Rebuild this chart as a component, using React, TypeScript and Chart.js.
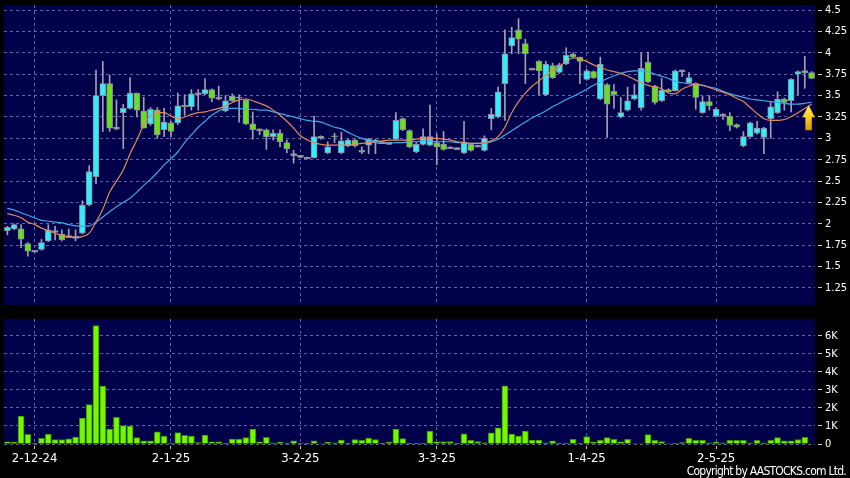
import React, { useEffect, useRef } from 'react';
import { Chart, registerables } from 'chart.js';

Chart.register(...registerables);

// ---- Data ----
const openP = [
  1.92, 1.94, 1.94, 1.77, 1.68, 1.70, 1.80, 1.90, 1.88, 1.85,
  1.84, 1.89, 2.22, 2.55, 3.50, 3.64, 3.12, 3.30, 3.35, 3.53,
  3.32, 3.17, 3.33, 3.10, 3.18, 3.18, 3.39, 3.37, 3.52, 3.52,
  3.57, 3.47, 3.32, 3.49, 3.48, 3.45, 3.17, 3.10, 3.10, 3.02,
  3.06, 2.95, 2.81, 2.79, 2.77, 2.77, 3.01, 2.83, 3.03, 2.83,
  2.91, 2.98, 2.85, 2.92, 2.96, 2.95, 2.94, 2.99, 3.23, 3.09,
  2.84, 2.93, 2.92, 2.95, 2.93, 2.89, 2.88, 2.83, 2.93, 2.91,
  2.86, 3.23, 3.25, 3.64, 4.08, 4.27, 4.11, 3.81, 3.90, 3.51,
  3.85, 3.77, 3.87, 3.985, 3.95, 3.69, 3.78, 3.46, 3.63, 3.55,
  3.25, 3.33, 3.46, 3.36, 3.89, 3.61, 3.44, 3.57, 3.557, 3.79,
  3.65, 3.64, 3.30, 3.43, 3.26, 3.27, 3.26, 3.16, 2.91, 3.02,
  3.06, 3.01, 3.23, 3.30, 3.46, 3.44, 3.75, 3.78, 3.77,
];
const highP = [
  1.97, 2.00, 1.99, 1.78, 1.68, 1.82, 1.99, 1.97, 1.93, 1.94,
  1.93, 2.27, 2.68, 3.80, 3.90, 3.74, 3.45, 3.40, 3.71, 3.53,
  3.48, 3.36, 3.36, 3.35, 3.20, 3.53, 3.51, 3.57, 3.57, 3.70,
  3.58, 3.61, 3.50, 3.52, 3.51, 3.46, 3.31, 3.11, 3.11, 3.10,
  3.10, 2.98, 2.86, 2.80, 2.78, 3.26, 3.03, 2.96, 3.06, 3.07,
  2.99, 2.99, 2.90, 3.00, 2.99, 2.96, 2.95, 3.30, 3.24, 3.10,
  2.95, 3.11, 3.39, 3.05, 3.08, 2.90, 2.89, 3.20, 2.94, 2.92,
  3.03, 3.35, 3.60, 4.27, 4.30, 4.40, 4.16, 3.82, 3.91, 3.90,
  3.88, 3.88, 4.06, 4.00, 3.95, 3.81, 3.79, 3.95, 3.64, 3.63,
  3.48, 3.60, 3.63, 4.00, 4.01, 3.62, 3.70, 3.58, 3.80, 3.80,
  3.77, 3.65, 3.49, 3.50, 3.36, 3.29, 3.30, 3.17, 3.08, 3.19,
  3.20, 3.13, 3.42, 3.545, 3.47, 3.70, 3.79, 3.96, 3.78,
];
const lowP = [
  1.87, 1.93, 1.72, 1.62, 1.67, 1.69, 1.79, 1.81, 1.80, 1.84,
  1.80, 1.88, 2.21, 2.47, 3.08, 3.08, 3.10, 2.88, 3.34, 3.25,
  3.12, 3.15, 3.00, 3.02, 3.02, 3.16, 3.27, 3.33, 3.33, 3.51,
  3.43, 3.45, 3.31, 3.43, 3.19, 3.16, 2.99, 3.04, 2.87, 2.98,
  2.90, 2.83, 2.71, 2.77, 2.76, 2.77, 2.99, 2.82, 2.95, 2.82,
  2.90, 2.90, 2.82, 2.82, 2.82, 2.94, 2.93, 2.98, 3.09, 2.89,
  2.83, 2.92, 2.91, 2.69, 2.86, 2.88, 2.87, 2.82, 2.85, 2.90,
  2.85, 3.10, 3.24, 3.21, 3.99, 3.99, 3.64, 3.80, 3.51, 3.50,
  3.70, 3.76, 3.86, 3.94, 3.64, 3.68, 3.70, 3.45, 3.01, 3.35,
  3.24, 3.32, 3.45, 3.33, 3.65, 3.40, 3.43, 3.54, 3.55, 3.72,
  3.64, 3.34, 3.29, 3.33, 3.25, 3.22, 3.09, 3.12, 2.90, 3.01,
  3.05, 2.82, 3.00, 3.29, 3.33, 3.31, 3.51, 3.585, 3.70,
];
const closeP = [
  1.96, 1.99, 1.82, 1.68, 1.68, 1.78, 1.93, 1.92, 1.81, 1.85,
  1.84, 2.22, 2.61, 3.50, 3.64, 3.12, 3.12, 3.35, 3.53, 3.33,
  3.12, 3.34, 3.04, 3.19, 3.08, 3.38, 3.37, 3.52, 3.52, 3.57,
  3.47, 3.47, 3.44, 3.44, 3.47, 3.17, 3.10, 3.10, 3.02, 3.06,
  2.96, 2.88, 2.81, 2.79, 2.77, 3.02, 3.01, 2.90, 3.02, 2.97,
  2.98, 2.91, 2.85, 2.99, 2.98, 2.95, 2.94, 3.21, 3.10, 2.90,
  2.93, 3.02, 3.02, 2.90, 2.87, 2.89, 2.88, 2.96, 2.86, 2.91,
  3.00, 3.28, 3.545, 3.99, 4.18, 4.16, 3.99, 3.81, 3.79, 3.87,
  3.71, 3.86, 3.97, 3.95, 3.90, 3.79, 3.71, 3.87, 3.40, 3.51,
  3.30, 3.44, 3.51, 3.82, 3.66, 3.42, 3.565, 3.545, 3.79, 3.79,
  3.71, 3.48, 3.43, 3.38, 3.34, 3.27, 3.15, 3.13, 3.02, 3.18,
  3.12, 3.12, 3.37, 3.46, 3.42, 3.69, 3.78, 3.78, 3.70,
];
const volume = [
  120, 110, 1550, 540, 20, 310, 550, 240, 250, 290,
  390, 1440, 2180, 6570, 3210, 830, 1480, 1020, 1000, 350,
  170, 170, 680, 440, 50, 630, 480, 440, 80, 500,
  120, 120, 50, 270, 270, 350, 830, 120, 370, 60,
  100, 40, 170, 20, 20, 170, 30, 100, 60, 220,
  40, 250, 200, 330, 240, 50, 100, 830, 300, 50,
  50, 50, 720, 120, 120, 140, 40, 570, 200, 140,
  70, 620, 900, 3230, 550, 440, 720, 220, 220, 60,
  170, 50, 50, 260, 50, 410, 100, 200, 350, 260,
  120, 260, 30, 30, 520, 200, 130, 30, 20, 80,
  320, 200, 200, 60, 100, 60, 200, 200, 200, 60,
  200, 60, 200, 350, 170, 170, 250, 370, 0,
];
const maShort = [
  2.12, 2.10, 2.07, 2.02, 1.99, 1.95, 1.92, 1.89, 1.86, 1.85,
  1.84, 1.85, 1.89, 2.02, 2.17, 2.37, 2.50, 2.63, 2.82, 2.98,
  3.16, 3.26, 3.30, 3.30, 3.26, 3.23, 3.25, 3.28, 3.30, 3.31,
  3.33, 3.35, 3.38, 3.42, 3.45, 3.46, 3.44, 3.41, 3.38, 3.33,
  3.27, 3.20, 3.12, 3.03, 2.98, 2.95, 2.93, 2.92, 2.92, 2.92,
  2.92, 2.93, 2.94, 2.95, 2.96, 2.97, 2.98, 2.98, 2.98, 2.98,
  2.99, 3.00, 3.00, 3.00, 2.99, 2.98, 2.96, 2.95, 2.94, 2.94,
  2.95, 2.97, 3.02, 3.13, 3.30, 3.43, 3.53, 3.61, 3.67, 3.74,
  3.79, 3.84, 3.90, 3.94, 3.93, 3.90, 3.86, 3.83, 3.80, 3.78,
  3.76, 3.73, 3.69, 3.65, 3.62, 3.60, 3.58, 3.53, 3.52, 3.575,
  3.61, 3.635, 3.62, 3.595, 3.565, 3.54, 3.51, 3.47, 3.43, 3.36,
  3.29, 3.23, 3.21, 3.21, 3.22, 3.255, 3.30, 3.35, 3.40,
];
const maLong = [
  2.18, 2.16, 2.13, 2.10, 2.07, 2.04, 2.03, 2.02, 2.01, 1.99,
  1.975, 1.97, 1.975, 2.02, 2.08, 2.14, 2.20, 2.25, 2.30, 2.37,
  2.45, 2.52, 2.60, 2.69, 2.76, 2.84, 2.95, 3.04, 3.13, 3.20,
  3.27, 3.32, 3.35, 3.35, 3.35, 3.34, 3.34, 3.33, 3.33, 3.31,
  3.29, 3.27, 3.25, 3.23, 3.21, 3.20, 3.19, 3.16, 3.13, 3.11,
  3.07, 3.03, 3.00, 2.97, 2.95, 2.94, 2.94, 2.95, 2.95, 2.96,
  2.96, 2.97, 2.97, 2.96, 2.96, 2.96, 2.95, 2.95, 2.94, 2.94,
  2.94, 2.96, 2.99, 3.04, 3.09, 3.14, 3.19, 3.24, 3.28, 3.32,
  3.37, 3.41, 3.455, 3.49, 3.53, 3.575, 3.62, 3.66, 3.70, 3.73,
  3.76, 3.78, 3.79, 3.79, 3.78, 3.75, 3.725, 3.70, 3.665, 3.65,
  3.64, 3.63, 3.62, 3.60, 3.585, 3.55, 3.52, 3.50, 3.48, 3.46,
  3.45, 3.44, 3.43, 3.42, 3.41, 3.40, 3.40, 3.41, 3.42,
];
const priceTicks = [1.25, 1.5, 1.75, 2, 2.25, 2.5, 2.75, 3, 3.25, 3.5, 3.75, 4, 4.25, 4.5];
const volumeTicks = [0, 1000, 2000, 3000, 4000, 5000, 6000];
const dateLabels = ['2-12-24', '2-1-25', '3-2-25', '3-3-25', '1-4-25', '2-5-25'];
const dateIndex = [4, 24, 43, 63, 85, 104];

// ---- Styles ----
const FONT = "'DejaVu Sans Condensed', 'DejaVu Sans', sans-serif";
const NAVY = '#00004a';
const GRID = 'rgba(140,140,200,0.7)';
const TICK = '#c8c8c8';
const CYAN = '#33eef8';
const GREEN = '#6ae01c';
const DOJI = '#a8a8b8';
const CANDLE_BORDER = '#8c8c9c';
const WICK = '#a0a0b2';
const ORANGE = '#e08a58';
const BLUE = '#44a8e8';
const VOL_FILL = '#74f800';
const VOL_BORDER = '#3a8e00';

const bgPlugin = {
  id: 'navyBg',
  beforeDraw(chart: any) {
    const { ctx, chartArea: a, width, height } = chart;
    ctx.save();
    ctx.fillStyle = '#000';
    ctx.fillRect(0, 0, width, height);
    ctx.fillStyle = NAVY;
    ctx.fillRect(a.left, a.top, a.right - a.left, a.bottom - a.top);
    ctx.restore();
  },
};

const arrowPlugin = {
  id: 'signalArrow',
  afterDatasetsDraw(chart: any) {
    const i = closeP.length - 1;
    const cx = chart.scales.x.getPixelForValue(i) - 3;
    const ty = chart.scales.y.getPixelForValue(maShort[i]) + 1;
    const ctx = chart.ctx;
    const hw = 6.3, sw = 3.2, hh = 12, len = 25;
    ctx.save();
    const g = ctx.createLinearGradient(cx - hw, ty, cx + hw, ty + len);
    g.addColorStop(0, '#fff07a');
    g.addColorStop(0.45, '#ffd21c');
    g.addColorStop(1, '#d08a00');
    ctx.beginPath();
    ctx.moveTo(cx, ty);
    ctx.lineTo(cx + hw, ty + hh);
    ctx.lineTo(cx + sw, ty + hh);
    ctx.lineTo(cx + sw, ty + len);
    ctx.lineTo(cx - sw, ty + len);
    ctx.lineTo(cx - sw, ty + hh);
    ctx.lineTo(cx - hw, ty + hh);
    ctx.closePath();
    ctx.fillStyle = g;
    ctx.fill();
    ctx.restore();
  },
};

const fitY = (s: any) => {
  s.width = 35;
  s.paddingTop = 0;
  s.paddingBottom = 0;
};

export default function App() {
  const topRef = useRef<HTMLCanvasElement>(null);
  const botRef = useRef<HTMLCanvasElement>(null);

  useEffect(() => {
    const n = closeP.length;
    const xMin = -0.5;
    const xMax = n - 0.5;

    const wickData = highP.map((h, i) => ({ x: i, y: [lowP[i], h] }));
    const bodyData = openP.map((o, i) => {
      const c = closeP[i];
      const flat = Math.abs(c - o) < 0.005;
      return { x: i, y: flat ? [o - 0.012, o + 0.012] : [o, c] };
    });
    const bodyColors = openP.map((o, i) =>
      closeP[i] - o > 0.004 ? CYAN : o - closeP[i] > 0.004 ? GREEN : DOJI
    );

    const xTicks = (s: any) => {
      s.ticks = dateIndex.map((v) => ({ value: v }));
    };

    const top = new Chart(topRef.current!, {
      type: 'bar',
      data: {
        datasets: [
          {
            type: 'line',
            data: maShort.map((v, i) => ({ x: i, y: v })),
            borderColor: ORANGE,
            borderWidth: 1.2,
            pointRadius: 0,
            cubicInterpolationMode: 'monotone',
            order: 0,
          } as any,
          {
            type: 'line',
            data: maLong.map((v, i) => ({ x: i, y: v })),
            borderColor: BLUE,
            borderWidth: 1.2,
            pointRadius: 0,
            cubicInterpolationMode: 'monotone',
            order: 1,
          } as any,
          {
            type: 'bar',
            data: bodyData,
            backgroundColor: bodyColors,
            borderColor: CANDLE_BORDER,
            borderWidth: 1,
            borderSkipped: false,
            barThickness: 6,
            grouped: false,
            order: 2,
          } as any,
          {
            type: 'bar',
            data: wickData,
            backgroundColor: WICK,
            borderWidth: 0,
            barThickness: 1,
            grouped: false,
            order: 3,
          } as any,
        ],
      },
      options: {
        responsive: false,
        animation: false,
        devicePixelRatio: 1,
        layout: { padding: { left: 4, top: 5, right: 0, bottom: 5 } },
        plugins: { legend: { display: false }, tooltip: { enabled: false } },
        scales: {
          x: {
            type: 'linear',
            offset: false,
            min: xMin,
            max: xMax,
            afterBuildTicks: xTicks,
            ticks: { display: false },
            grid: { color: GRID, drawTicks: false, offset: false },
            border: { display: false, dash: [3, 3] },
            afterFit: (s: any) => { s.height = 0; s.paddingLeft = 0; s.paddingRight = 0; },
          },
          y: {
            type: 'linear',
            position: 'right',
            min: 1.05,
            max: 4.56,
            afterBuildTicks: (s: any) => { s.ticks = priceTicks.map((v) => ({ value: v })); },
            ticks: {
              color: '#ffffff',
              font: { family: FONT, size: 11 },
              padding: 3,
              callback: (v: any) => String(v),
            },
            grid: {
              color: GRID,
              tickColor: TICK,
              tickLength: 7,
              tickBorderDash: [0, 3, 4, 40],
              tickWidth: 1,
            },
            border: { display: false, dash: [3, 3] },
            afterFit: fitY,
          },
        },
      } as any,
      plugins: [bgPlugin, arrowPlugin],
    });

    const bot = new Chart(botRef.current!, {
      type: 'bar',
      data: {
        datasets: [
          {
            data: volume.map((v, i) => ({ x: i, y: v })),
            backgroundColor: VOL_FILL,
            borderColor: VOL_BORDER,
            borderWidth: 1,
            borderSkipped: 'start',
            barThickness: 6,
            grouped: false,
          } as any,
        ],
      },
      options: {
        responsive: false,
        animation: false,
        devicePixelRatio: 1,
        layout: { padding: { left: 4, top: 9, right: 0, bottom: 0 } },
        plugins: { legend: { display: false }, tooltip: { enabled: false } },
        scales: {
          x: {
            type: 'linear',
            offset: false,
            min: xMin,
            max: xMax,
            afterBuildTicks: xTicks,
            ticks: {
              color: '#ffffff',
              font: { family: FONT, size: 13 },
              padding: 2,
              autoSkip: false,
              maxRotation: 0,
              minRotation: 0,
              callback: (_v: any, i: number) => dateLabels[i],
            },
            grid: {
              color: GRID,
              tickColor: TICK,
              tickLength: 5,
              tickBorderDash: [0, 2, 3, 40],
              offset: false,
            },
            border: { display: false, dash: [3, 3] },
            afterFit: (s: any) => { s.height = 34; s.paddingLeft = 0; s.paddingRight = 0; },
          },
          y: {
            type: 'linear',
            position: 'right',
            min: 0,
            max: 6930,
            afterBuildTicks: (s: any) => { s.ticks = volumeTicks.map((v) => ({ value: v })); },
            ticks: {
              color: '#ffffff',
              font: { family: FONT, size: 11 },
              padding: 3,
              callback: (v: any) => (v === 0 ? '0' : `${v / 1000}K`),
            },
            grid: {
              color: GRID,
              tickColor: TICK,
              tickLength: 7,
              tickBorderDash: [0, 3, 4, 40],
            },
            border: { display: false, dash: [3, 3] },
            afterFit: fitY,
          },
        },
      } as any,
      plugins: [bgPlugin],
    });

    return () => {
      top.destroy();
      bot.destroy();
    };
  }, []);

  return (
    <div
      style={{
        position: 'fixed',
        left: 0,
        top: 0,
        width: 850,
        height: 478,
        background: '#000',
        overflow: 'hidden',
      }}
    >
      <canvas ref={topRef} width={850} height={310} style={{ position: 'absolute', left: 0, top: 0 }} />
      <canvas ref={botRef} width={850} height={168} style={{ position: 'absolute', left: 0, top: 310 }} />
      <div
        style={{
          position: 'absolute',
          right: 4,
          top: 464,
          color: '#ffffff',
          font: `12px ${FONT}`,
          letterSpacing: '-0.75px',
          lineHeight: '15px',
          whiteSpace: 'nowrap',
        }}
      >
        Copyright by AASTOCKS.com Ltd.
      </div>
    </div>
  );
}
